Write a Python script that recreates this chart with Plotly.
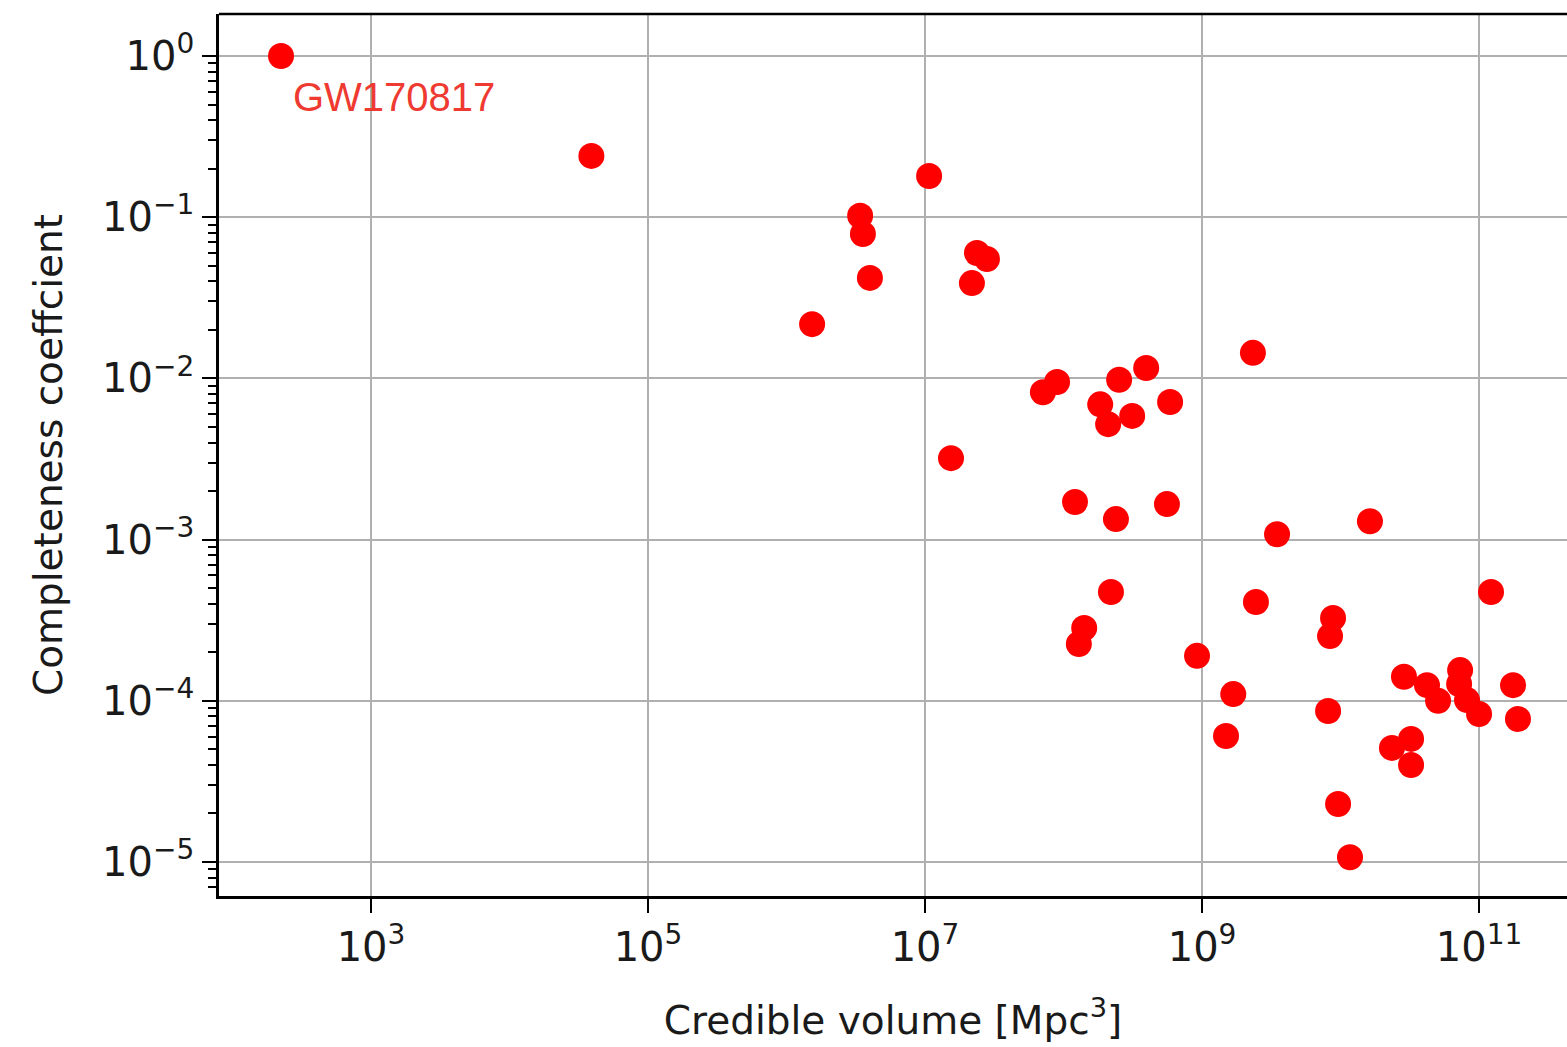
import plotly.graph_objects as go

# Credible volume [Mpc^3] and completeness coefficient for each event
volume = [
    224, 3.9e4, 1.07e7, 3.4e6, 3.56e6, 4.0e6, 1.53e6, 2.37e7, 2.8e7, 2.18e7,
    1.54e7, 7.1e7, 8.98e7, 1.84e8, 2.1e8, 2.52e8, 3.13e8, 3.95e8, 5.88e8, 2.33e9,
    1.21e8, 2.39e8, 5.58e8, 3.48e9, 1.63e10, 2.2e8, 1.41e8, 1.29e8, 9.2e8, 2.45e9,
    1.68e9, 1.49e9, 8.83e9, 8.4e9, 8.13e9, 9.6e9, 1.17e10, 2.87e10, 4.21e10, 5.06e10,
    7.3e10, 7.18e10, 8.19e10, 1.0e11, 2.35e10, 3.23e10, 3.23e10, 1.22e11, 1.76e11, 1.91e11,
]
completeness = [
    1.0, 0.24, 0.18, 0.102, 0.0787, 0.042, 0.0217, 0.060, 0.055, 0.039,
    0.0032, 0.0082, 0.0095, 0.0069, 0.0052, 0.0098, 0.00585, 0.0116, 0.00714, 0.0144,
    0.00171, 0.00134, 0.00166, 0.00108, 0.0013, 4.73e-4, 2.83e-4, 2.25e-4, 1.9e-4, 4.1e-4,
    1.1e-4, 6.05e-5, 3.26e-4, 2.52e-4, 8.65e-5, 2.29e-5, 1.07e-5, 1.41e-4, 1.25e-4, 1.0e-4,
    1.55e-4, 1.27e-4, 1.01e-4, 8.28e-5, 5.1e-5, 5.8e-5, 4.0e-5, 4.73e-4, 1.25e-4, 7.71e-5,
]

x_tickvals = [1e3, 1e5, 1e7, 1e9, 1e11]
x_ticktext = ["10<sup>3</sup>", "10<sup>5</sup>", "10<sup>7</sup>", "10<sup>9</sup>", "10<sup>11</sup>"]
y_tickvals = [1, 1e-1, 1e-2, 1e-3, 1e-4, 1e-5]
y_ticktext = ["10<sup>0</sup>", "10<sup>−1</sup>", "10<sup>−2</sup>", "10<sup>−3</sup>",
              "10<sup>−4</sup>", "10<sup>−5</sup>"]
y_decades = [1e-6, 1e-5, 1e-4, 1e-3, 1e-2, 1e-1, 1]
y_minor_mults = [2, 3, 4, 5, 6, 7, 8, 9]
y_minor_vals = [d * m for d in y_decades for m in y_minor_mults]

label_event = "GW170817"

FONT = "DejaVu Sans"
TXT = "#1a1a1a"

fig = go.Figure()
fig.add_trace(go.Scatter(
    x=volume, y=completeness, mode="markers",
    marker=dict(color="#ff0000", size=26, line=dict(width=0)),
    showlegend=False, cliponaxis=False,
))

fig.add_annotation(
    x=2.35, y=0, xref="x", yref="y",
    text=label_event, showarrow=False,
    xanchor="left", yanchor="top", xshift=10, yshift=-17,
    font=dict(family="Liberation Sans", size=40, color="#ef3a31"),
)

axis_common = dict(
    type="log",
    showgrid=True, gridcolor="#b0b0b0", gridwidth=2,
    showline=True, linecolor="black", linewidth=2.5,
    ticks="outside", ticklen=14, tickwidth=2, tickcolor="black",
    tickfont=dict(family=FONT, size=40, color=TXT),
    zeroline=False,
)

fig.update_xaxes(
    **axis_common,
    range=[1.9025, 11.635],
    tickvals=x_tickvals, ticktext=x_ticktext,
    title=dict(text="Credible volume [Mpc<sup>3</sup>]",
               font=dict(family=FONT, size=39, color=TXT), standoff=38),
)
fig.update_yaxes(
    **axis_common,
    range=[-5.211, 0.2605],
    tickvals=y_tickvals, ticktext=y_ticktext,
    minor=dict(tickmode="array", tickvals=y_minor_vals, ticks="outside", ticklen=8,
               tickwidth=1.5, tickcolor="black", showgrid=False),
    title=dict(text="Completeness coeffcient",
               font=dict(family=FONT, size=39, color=TXT), standoff=28),
)

# top spine
fig.add_shape(type="line", xref="paper", yref="paper", x0=0, x1=1, y0=1, y1=1,
              line=dict(color="black", width=2.5))

fig.update_layout(
    width=1567, height=1047,
    margin=dict(l=219, r=0, t=14, b=151),
    plot_bgcolor="white", paper_bgcolor="white",
    font=dict(family=FONT),
)

fig.write_html("out.html")
